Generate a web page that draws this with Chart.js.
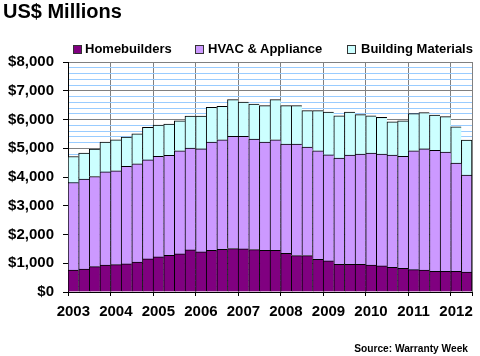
<!DOCTYPE html>
<html>
<head>
<meta charset="utf-8">
<script src="https://cdn.jsdelivr.net/npm/chart.js@4/dist/chart.umd.min.js"></script>
<style>
  html, body { margin: 0; padding: 0; background: #fff; }
  #wrap { position: relative; width: 480px; height: 356px; overflow: hidden; font-family: "Liberation Sans", Arial, sans-serif; font-weight: bold; color: #000; }
  #c { position: absolute; left: 0; top: 0; }
  .txt { position: absolute; white-space: nowrap; }
  #title { left: 3px; top: 0px; font-size: 20px; line-height: 23px; }
  #source { right: 12px; top: 343px; font-size: 10.2px; line-height: 12px; }
  .lg { position: absolute; font-size: 13px; line-height: 15px; top: 41px; white-space: nowrap; }
  .box { position: absolute; width: 7px; height: 7px; top: 45px; border: 1px solid #333; }
</style>
</head>
<body>
<div id="wrap">
  <canvas id="c" width="480" height="356"></canvas>
  <div class="txt" id="title">US$ Millions</div>
  <div class="box" style="left:73px;background:#800080"></div>
  <div class="lg" style="left:85px">Homebuilders</div>
  <div class="box" style="left:195px;background:#CC99FF"></div>
  <div class="lg" style="left:208px">HVAC &amp; Appliance</div>
  <div class="box" style="left:347px;background:#CCFFFF"></div>
  <div class="lg" style="left:361px">Building Materials</div>
  <div class="txt" id="source">Source: Warranty Week</div>
</div>
<script>
// ---- data ----
const years = ['2003','2004','2005','2006','2007','2008','2009','2010','2011','2012'];
const quarters = ['Q1','Q2','Q3','Q4'];
const categories = [];
years.forEach(y => quarters.forEach(q => categories.push(y + ' ' + q)));
categories.length = 38; // 2003 Q1 .. 2012 Q2

const seriesNames = ['Homebuilders', 'HVAC & Appliance', 'Building Materials'];
const homebuilders = [766, 801, 882, 940, 950, 976, 1045, 1150, 1220, 1278, 1324, 1463, 1394, 1452, 1487, 1510, 1498, 1475, 1452, 1452,
  1347, 1266, 1266, 1138, 1080, 964, 964, 964, 940, 906, 859, 824, 778, 766, 720, 720, 720, 697];
const hvacAppliance = [3042, 3125, 3136, 3241, 3266, 3391, 3415, 3449, 3495, 3472, 3589, 3543, 3589, 3763, 3809, 3902, 3914, 3844, 3763, 3844,
  3799, 3880, 3775, 3775, 3694, 3693, 3798, 3833, 3892, 3891, 3903, 3891, 4135, 4217, 4205, 4146, 3763, 3367];
const buildingMaterials = [906, 906, 953, 1034, 1080, 1022, 1045, 1127, 1093, 1093, 1045, 1115, 1138, 1208, 1162, 1278, 1197, 1220, 1266, 1394,
  1335, 1335, 1266, 1394, 1486, 1475, 1498, 1370, 1300, 1277, 1161, 1243, 1289, 1254, 1231, 1232, 1266, 1220];
const yMin = 0, yMax = 8000, yMajorStep = 1000, yMinorStep = 200;

// ---- chart ----
const FONT = '"Liberation Sans", Arial, sans-serif';
const lastIdx = categories.length - 1;
const bw = ctx => ({ left: 1, top: 1, bottom: 0, right: ctx.dataIndex === lastIdx ? 1 : 0 });
const mk = (label, data, color) => ({
  label, data, backgroundColor: color, borderColor: '#000', borderWidth: bw,
  borderSkipped: false, barPercentage: 1, categoryPercentage: 1
});

new Chart(document.getElementById('c'), {
  type: 'bar',
  data: {
    labels: categories,
    datasets: [
      mk(seriesNames[0], homebuilders, '#800080'),
      mk(seriesNames[1], hvacAppliance, '#CC99FF'),
      mk(seriesNames[2], buildingMaterials, '#CCFFFF')
    ]
  },
  options: {
    responsive: false,
    animation: false,
    layout: { padding: { top: 62, right: 8, left: 0, bottom: 0 } },
    plugins: { legend: { display: false }, tooltip: { enabled: false } },
    scales: {
      x: {
        stacked: true,
        afterFit: s => { s.height = 64; },
        grid: {
          offset: true,
          color: c => (c.index === undefined || c.index % 4 === 0) ? '#808080' : 'rgba(0,0,0,0)',
          tickColor: c => (c.index === undefined || c.index % 4 === 0) ? '#000' : 'rgba(0,0,0,0)',
          tickLength: 4
        },
        border: { color: '#000', width: 1 },
        ticks: {
          autoSkip: false, maxRotation: 0, minRotation: 0, padding: 7,
          color: '#000', font: { family: FONT, size: 15, weight: 'bold' },
          callback: (v, i) => i % 4 === 0 ? categories[i].split(' ')[0] : ''
        }
      },
      y: {
        stacked: true,
        min: yMin, max: yMax,
        afterFit: s => { s.width = 68; },
        grid: {
          color: c => (c.tick && c.tick.value % yMajorStep === 0) ? '#808080' : '#99CCFF',
          tickColor: c => (c.tick && c.tick.value % yMajorStep === 0) ? '#000' : 'rgba(0,0,0,0)',
          tickLength: 5
        },
        border: { color: '#000', width: 1 },
        ticks: {
          stepSize: yMinorStep, maxTicksLimit: 100, autoSkip: false, padding: 9,
          color: '#000', font: { family: FONT, size: 15, weight: 'bold' },
          callback: v => v % yMajorStep === 0 ? '$' + v.toLocaleString('en-US') : ''
        }
      }
    }
  }
});
</script>
</body>
</html>
